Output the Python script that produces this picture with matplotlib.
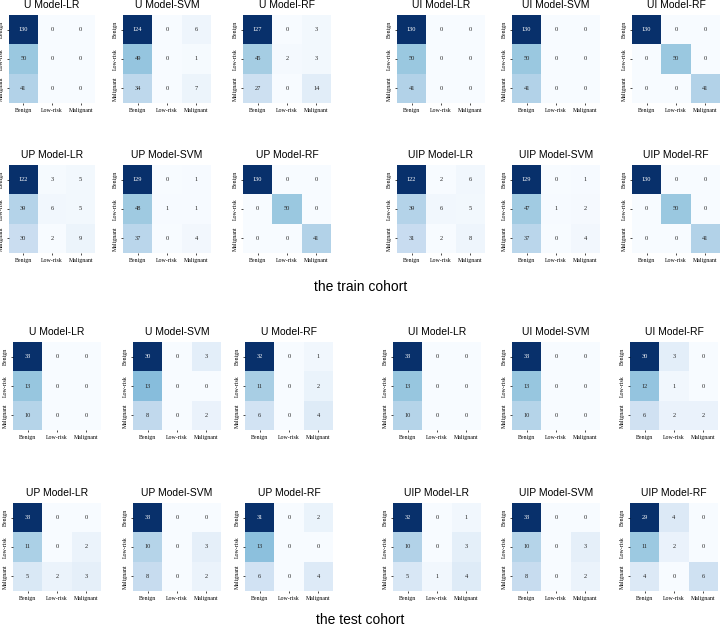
import numpy as np
import matplotlib
matplotlib.use('Agg')
import matplotlib.pyplot as plt
import seaborn as sns

labels = ['Benign', 'Low-risk', 'Malignant']
models = ['U Model-LR', 'U Model-SVM', 'U Model-RF',
          'UI Model-LR', 'UI Model-SVM', 'UI Model-RF',
          'UP Model-LR', 'UP Model-SVM', 'UP Model-RF',
          'UIP Model-LR', 'UIP Model-SVM', 'UIP Model-RF']

# confusion matrices, train cohort
train_cm = [
    [[130, 0, 0], [50, 0, 0], [41, 0, 0]],
    [[124, 0, 6], [49, 0, 1], [34, 0, 7]],
    [[127, 0, 3], [45, 2, 3], [27, 0, 14]],
    [[130, 0, 0], [50, 0, 0], [41, 0, 0]],
    [[130, 0, 0], [50, 0, 0], [41, 0, 0]],
    [[130, 0, 0], [0, 50, 0], [0, 0, 41]],
    [[122, 3, 5], [39, 6, 5], [30, 2, 9]],
    [[129, 0, 1], [48, 1, 1], [37, 0, 4]],
    [[130, 0, 0], [0, 50, 0], [0, 0, 41]],
    [[122, 2, 6], [39, 6, 5], [31, 2, 8]],
    [[129, 0, 1], [47, 1, 2], [37, 0, 4]],
    [[130, 0, 0], [0, 50, 0], [0, 0, 41]],
]

# confusion matrices, test cohort
test_cm = [
    [[33, 0, 0], [13, 0, 0], [10, 0, 0]],
    [[30, 0, 3], [13, 0, 0], [8, 0, 2]],
    [[32, 0, 1], [11, 0, 2], [6, 0, 4]],
    [[33, 0, 0], [13, 0, 0], [10, 0, 0]],
    [[33, 0, 0], [13, 0, 0], [10, 0, 0]],
    [[30, 3, 0], [12, 1, 0], [6, 2, 2]],
    [[33, 0, 0], [11, 0, 2], [5, 2, 3]],
    [[33, 0, 0], [10, 0, 3], [8, 0, 2]],
    [[31, 0, 2], [13, 0, 0], [6, 0, 4]],
    [[32, 0, 1], [10, 0, 3], [5, 1, 4]],
    [[33, 0, 0], [10, 0, 3], [8, 0, 2]],
    [[29, 4, 0], [11, 2, 0], [4, 0, 6]],
]

W, H = 721, 628
fig = plt.figure(figsize=(W / 100, H / 100), dpi=100)


def draw(cm, title, x, y, w=88, h=88):
    # x, y are pixel positions of the top-left corner
    ax = fig.add_axes([x / W, 1 - (y + h) / H, w / W, h / H])
    sns.heatmap(np.array(cm), annot=True, fmt='d', cmap='Blues', cbar=False,
                xticklabels=labels, yticklabels=labels, ax=ax,
                annot_kws={'fontsize': 4.6, 'family': 'Liberation Serif'})
    ax.set_title(title, fontsize=7.5, family='Liberation Sans', pad=5)
    ax.tick_params(length=1.5, width=0.5, pad=2, labelsize=4.2)
    for t in ax.get_xticklabels() + ax.get_yticklabels():
        t.set_family('Liberation Serif')
    plt.setp(ax.get_xticklabels(), rotation=0, ha='center')
    plt.setp(ax.get_yticklabels(), rotation=90, va='center')


train_x = [9, 123, 243, 397, 512, 632]
test_x = [13, 133, 245, 393, 512, 630]
train_y = [15, 165]
test_y = [342, 503]

for i in range(12):
    r, c = divmod(i, 6)
    # models list is ordered U, UI (row 1) then UP, UIP (row 2)
    draw(train_cm[i], models[i], train_x[c], train_y[r], w=86 if c == 0 else 88)
    draw(test_cm[i], models[i], test_x[c], test_y[r])

fig.text(0.5, 1 - 287 / H, 'the train cohort', ha='center', va='center',
         fontsize=10, family='Liberation Sans')
fig.text(0.5, 1 - 620 / H, 'the test cohort', ha='center', va='center',
         fontsize=10, family='Liberation Sans')

fig.savefig('out.png', dpi=100)
